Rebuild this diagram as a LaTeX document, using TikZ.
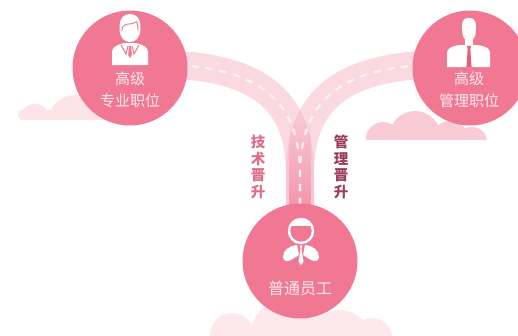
\documentclass[tikz,border=0pt]{standalone}
\usepackage{fontspec}
\newfontfamily\cjk{Noto Sans CJK SC}
\usetikzlibrary{fadings}
\definecolor{disc}{HTML}{F17893}
\definecolor{discdark}{HTML}{E0607E}
\definecolor{roadpink}{HTML}{F5B3C3}
\definecolor{cloudA}{HTML}{FDE4E9}
\definecolor{cloudB}{HTML}{F9CBD5}
\definecolor{cloudC}{HTML}{FDE8EC}
\definecolor{labeltxt}{HTML}{FDEAF0}
\definecolor{techtxt}{HTML}{DE6C8B}
\definecolor{mgmttxt}{HTML}{9C3C5C}
\tikzset{
  road/.style={line width=28pt, draw=roadpink, draw opacity=0.5},
  lane/.style={line width=2.4pt, draw=white, draw opacity=0.65, dash pattern=on 7pt off 7pt},
  level/.style={circle, fill=disc, minimum size=115pt, inner sep=0pt},
  leveltext/.style={text=labeltxt, font=\cjk\fontsize{15}{21.5}\selectfont, align=center},
  pathtext/.style={font=\cjk\bfseries\fontsize{14.5}{16.5}\selectfont, align=center},
  icon/.style={fill=white, draw=none},
}
\begin{document}
\begin{tikzpicture}[x=1pt,y=-1pt]
\useasboundingbox (0,0) rectangle (518,335);
\clip (0,0) rectangle (518,335);

% clouds
\begin{scope}
  \clip (0,0) rectangle (518,119);
  \fill[cloudA] (35,119) circle (15) (75,122) circle (27) (110,121) circle (20) (22,115) circle (4);
  \fill[cloudA] (20,110) rectangle (120,119);
\end{scope}
\begin{scope}
  \clip (0,0) rectangle (518,139);
  \fill[cloudB] (383,139) circle (17) (415,137) circle (26) (450,140) circle (19) (472,142) circle (15);
  \fill[cloudB] (367,131) rectangle (480,139);
\end{scope}
\fill[cloudC] (232,335) circle (22) (290,337) circle (40) (340,340) circle (30) (372,338) circle (20);

% roads
\coordinate (lstart) at (150,64);
\coordinate (rstart) at (450,64);
\coordinate (merge) at (300,175);
\coordinate (base) at (300,220);
\draw[road] (lstart) .. controls (260,64) and (300,100) .. (merge) -- (base);
\draw[road] (rstart) .. controls (340,64) and (300,100) .. (merge) -- (base);
\fill[disc, path fading=north, fill opacity=0.7] (289,122) rectangle (311,220);
\draw[lane] (lstart) .. controls (260,64) and (300,100) .. (merge) -- (base);
\draw[lane] (rstart) .. controls (340,64) and (300,100) .. (merge) -- (base);

% path labels
\node[pathtext, text=techtxt] (tech) at (258,167) {技\\术\\晋\\升};
\node[pathtext, text=mgmttxt] (mgmt) at (341,167) {管\\理\\晋\\升};

% level discs
\node[level] (senior) at (130,68) {};
\node[level] (manager) at (470,68) {};
\node[level] (staff) at (300,261) {};

\node[leveltext] (seniortxt) at (130,90) {高级\\专业职位};
\node[leveltext] (managertxt) at (469,90) {高级\\管理职位};
\node[leveltext, font=\cjk\fontsize{16}{20}\selectfont] (stafftxt) at (300,288) {普通员工};

% professional icon
\fill[icon] (112,65) -- (112,52) .. controls (112,47) and (117,45) .. (124,43) -- (136,43) .. controls (143,45) and (148,47) .. (148,52) -- (148,65) -- cycle;
\draw[disc, line width=1pt] (121,45) -- (126,54) -- (128,46);
\draw[disc, line width=1pt] (139,45) -- (134,54) -- (132,46);
\fill[disc] (129,46) -- (131,46) -- (131.8,55) -- (130,58) -- (128.2,55) -- cycle;
\fill[icon] (119.5,29) .. controls (119,18) and (124,14) .. (130,14) .. controls (136,14) and (141,18) .. (140.5,29) .. controls (140,38) and (135.5,42) .. (130,42) .. controls (124.5,42) and (120,38) .. (119.5,29) -- cycle;
\draw[disc, line width=0.9pt] (122,31) .. controls (122,26) and (124.5,24) .. (129,24) .. controls (132,24.5) and (134.5,23) .. (136.5,21.5) .. controls (138,25) and (138.2,28) .. (138,31);

% manager icon
\fill[icon] (447,67) -- (447,53) .. controls (447,48) and (452,46) .. (460,45) -- (477,45) .. controls (485,46) and (490,48) .. (490,53) -- (490,67) -- cycle;
\fill[icon] (465,36) rectangle (473,46);
\fill[icon] (462,27) .. controls (462,19) and (465,18) .. (469,18) .. controls (473,18) and (476,19) .. (476,27) -- (475.5,34) .. controls (475,38) and (472,41) .. (469,41) .. controls (466,41) and (463,38) .. (462.5,34) -- cycle;
\fill[discdark] (467,46) -- (471,46) -- (470.3,49) -- (471.6,67) -- (466.4,67) -- (467.7,49) -- cycle;

% staff icon
\begin{scope}
  \clip (301,231) circle (12);
  \fill[icon] (288,218) rectangle (314,225.5);
  \fill[icon] (289,226.5) .. controls (294,222.5) and (298,224.5) .. (301,223) .. controls (304,224.5) and (308,222.5) .. (313,226.5) -- (313,222) -- (289,222) -- cycle;
\end{scope}
\draw[white, line width=2.4pt] (301,231) circle (12);
\fill[icon] (297,245) .. controls (289,246) and (283,250) .. (283,257) .. controls (283,261) and (287,262) .. (291,260) -- (299,255) -- cycle;
\fill[icon] (305,245) .. controls (313,246) and (319,250) .. (319,257) .. controls (319,261) and (315,262) .. (311,260) -- (303,255) -- cycle;
\filldraw[fill=white, draw=disc, line width=0.8pt] (299,245) -- (303,245) -- (302,249) -- (304,262) -- (301,266) -- (298,262) -- (300,249) -- cycle;
\end{tikzpicture}
\end{document}
